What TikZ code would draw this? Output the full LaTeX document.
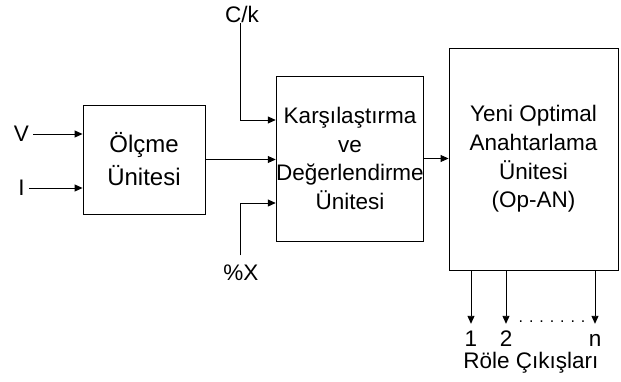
\documentclass[tikz,border=0pt]{standalone}
\usepackage{fontspec}
\setmainfont{Liberation Sans}
\usepackage{tikz}
\usetikzlibrary{positioning,calc,arrows.meta}
\tikzstyle{blok}= [rectangle, draw, line width=0.9pt, align=center, inner sep=0pt, font=\fontsize{22.5pt}{28.7pt}\selectfont]
\tikzstyle{lbl}= [inner sep=0pt, font=\fontsize{22.5pt}{26pt}\selectfont]
\tikzstyle{cikis}= [inner sep=0pt, text height=16pt, text depth=0pt, anchor=base, font=\fontsize{22.5pt}{26pt}\selectfont]
\tikzstyle{arr}= [-{Triangle[length=8pt,width=7pt]}, line width=0.9pt]

\begin{document}
\begin{tikzpicture}[x=1pt,y=-1pt]
						\useasboundingbox (0,0) rectangle (621,381);
						\node[blok, minimum width=122pt, minimum height=109pt, font=\fontsize{24pt}{33pt}\selectfont] (olcme) at (144,159.5) {Ölçme\\Ünitesi};
						\node[blok, minimum width=146pt, minimum height=165pt] (kd) at (350,158.5) {Karşılaştırma\\ve\\Değerlendirme\\Ünitesi};
						\node[blok, minimum width=169pt, minimum height=222pt] (opan) at (533.5,159) {Yeni Optimal\\Anahtarlama\\Ünitesi\\(Op-AN)};
						\node[lbl, inner xsep=4pt] (v) at (21.5,134) {V};
						\node[lbl, inner xsep=4pt] (i) at (21.5,188) {I};
						\node[lbl] (ck) at (242,14.5) {C/k};
						\node[lbl, inner ysep=9pt] (px) at (241,272.5) {\%X};
						\coordinate (kin1) at (kd.west |- 0,120);
						\coordinate (kin3) at (kd.west |- 0,203);
						\node[cikis] (o1) at (471,346) {1};
						\node[cikis] (o2) at (506,346) {2};
						\node[cikis] (on) at (595,346) {n};
						\node[inner sep=0pt, anchor=base, font=\fontsize{16pt}{18pt}\selectfont] (nokta) at (552,322) {. . . . . . .};
						\node[lbl, anchor=base] (role) at (531,368) {Röle Çıkışları};
						\draw[arr](v.east) -- (v -| olcme.west);
						\draw[arr](i.east) -- (i -| olcme.west);
						\draw[arr](olcme.east) -- (olcme.east -| kd.west);
						\draw[arr](ck.south -| 240,0) |- (kin1);
						\draw[arr](px.north -| 240,0) |- (kin3);
						\draw[arr](kd.east) -- (kd.east -| opan.west);
						\draw[arr, shorten >=6pt](opan.south -| o1) -- (o1.north);
						\draw[arr, shorten >=6pt](opan.south -| o2) -- (o2.north);
						\draw[arr, shorten >=6pt](opan.south -| on) -- (on.north);
					\end{tikzpicture}
\end{document}
